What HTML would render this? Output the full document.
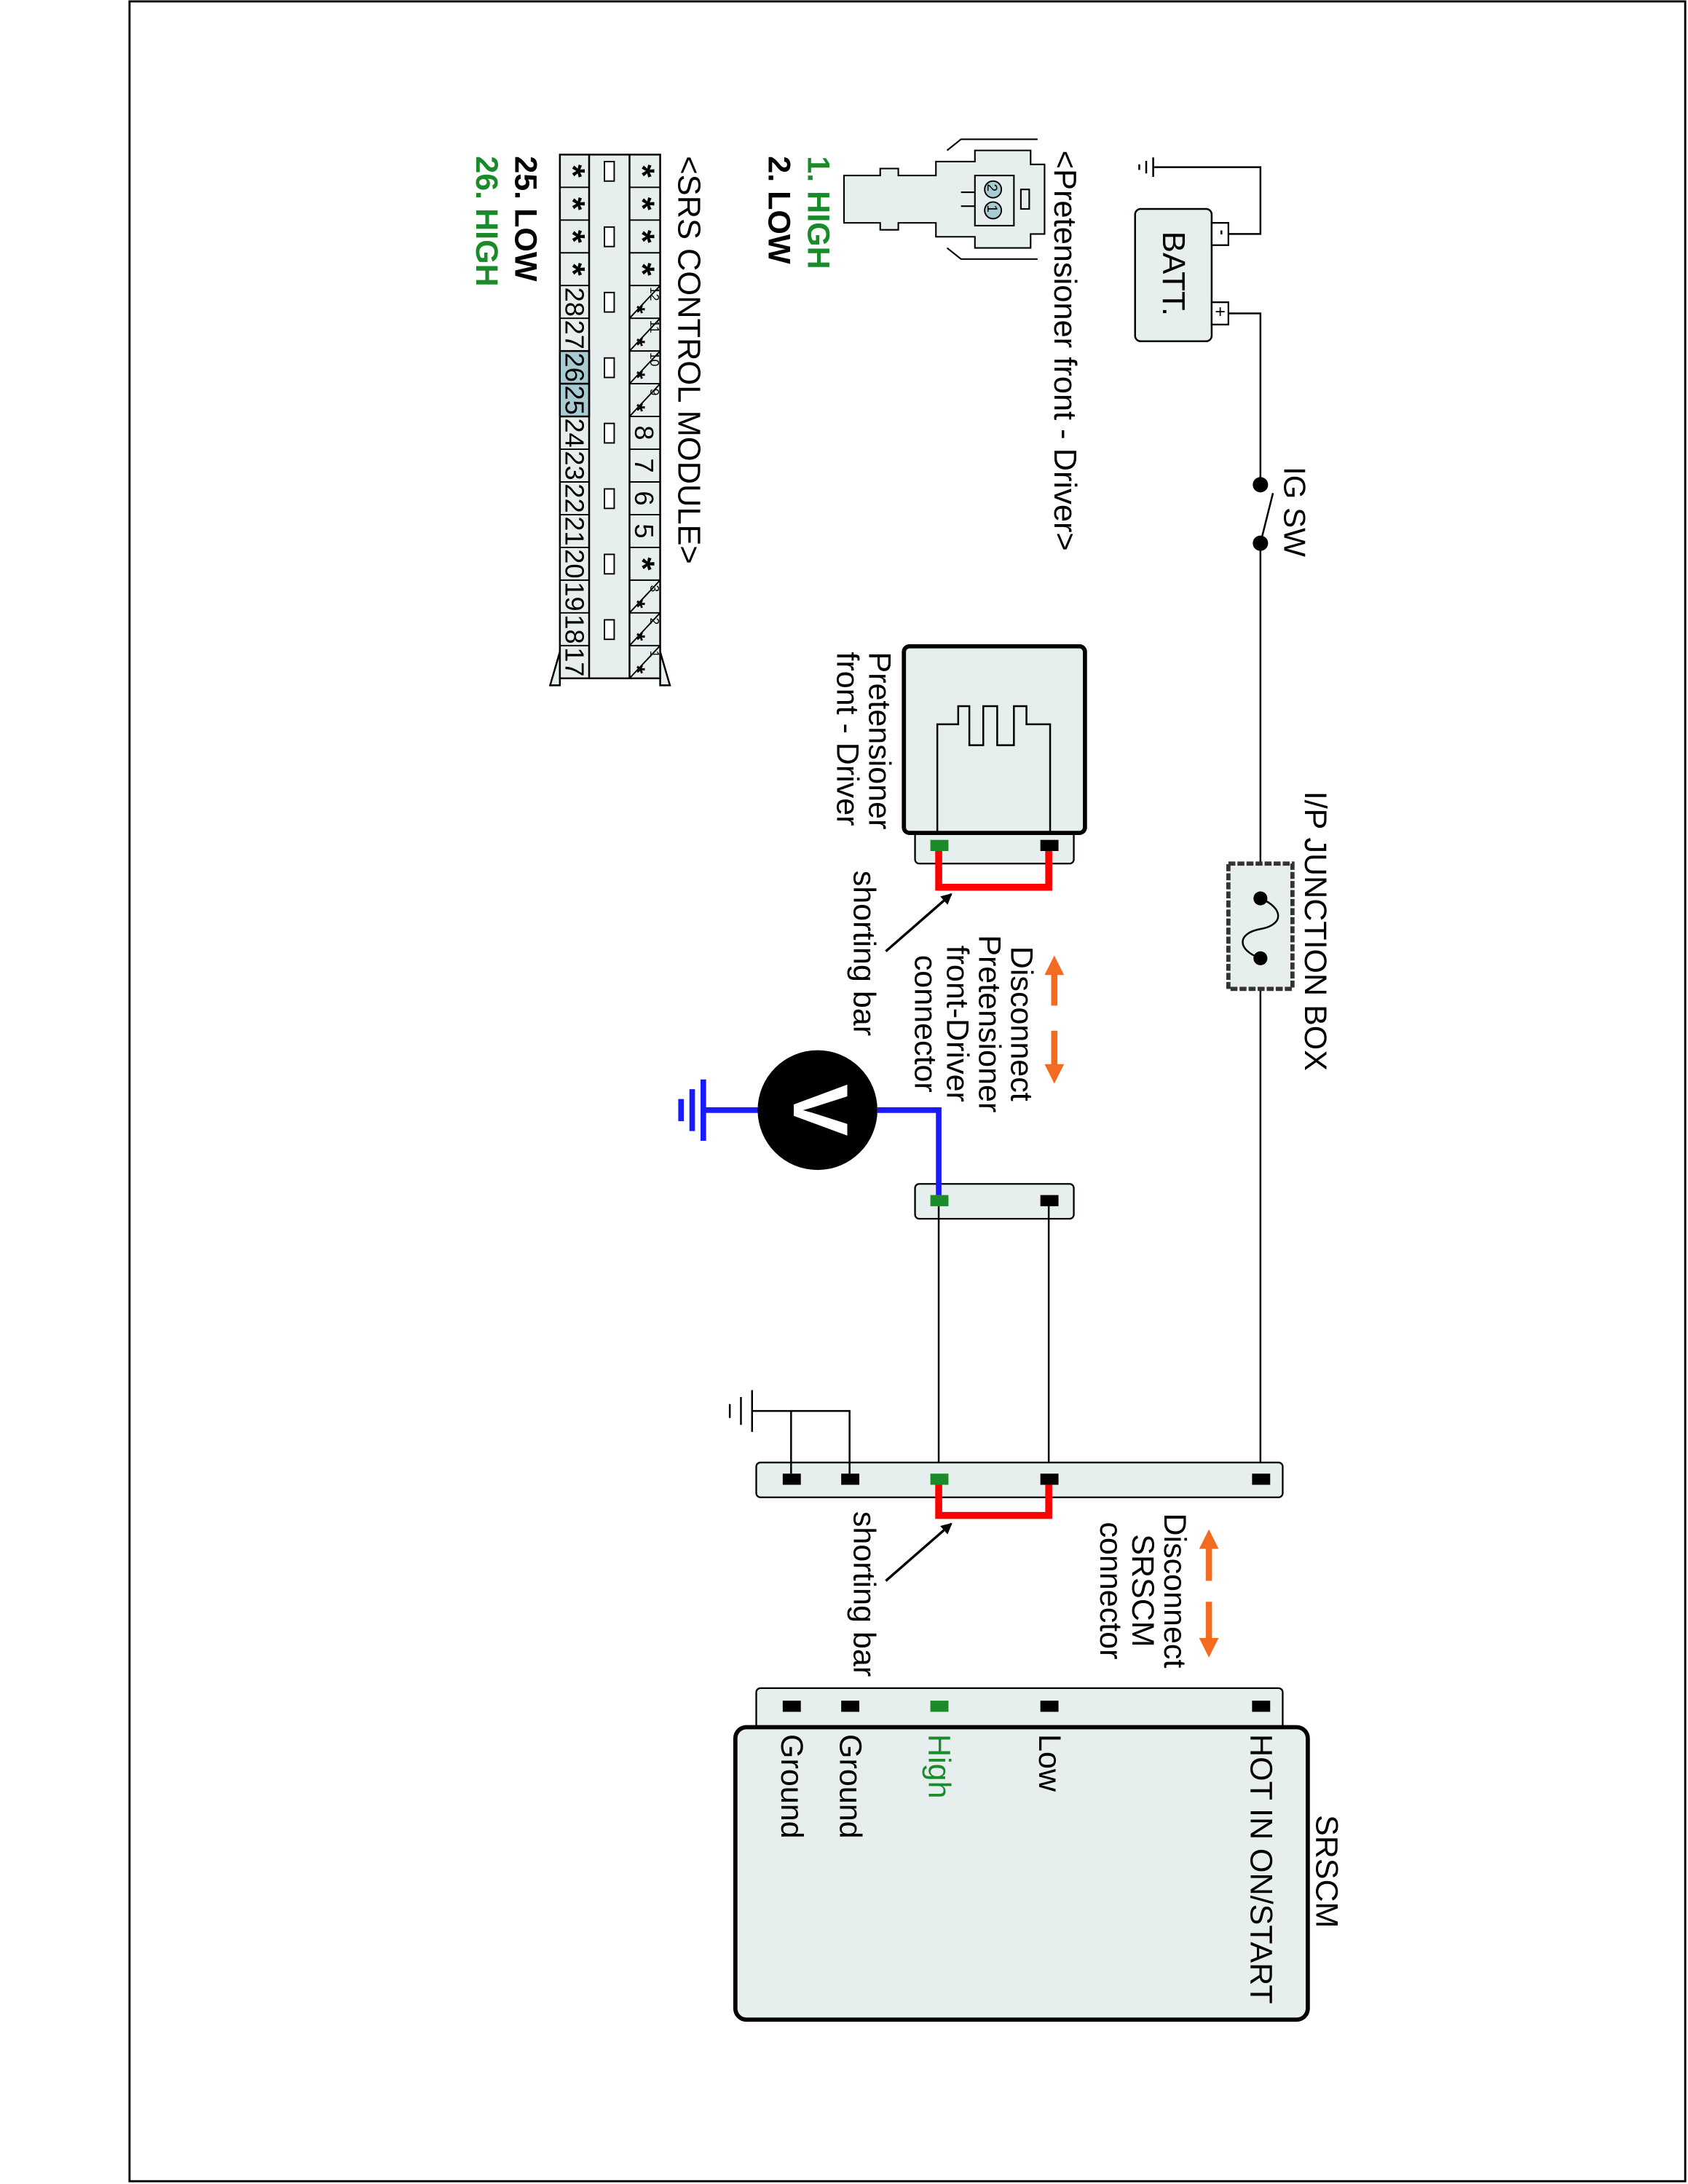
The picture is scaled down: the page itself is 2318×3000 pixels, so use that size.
<!DOCTYPE html>
<html><head><meta charset="utf-8"><style>
html,body{margin:0;padding:0;background:#fff}
svg{display:block}
text{font-family:"Liberation Sans",Arial,sans-serif;fill:#000}
</style></head><body>
<svg width="2318" height="3000" viewBox="0 0 1212 1568" preserveAspectRatio="none" xmlns="http://www.w3.org/2000/svg">
<defs>
<marker id="ah" markerWidth="8" markerHeight="8" refX="7" refY="4" orient="auto" markerUnits="userSpaceOnUse"><path d="M0,0 L8,4 L0,8 z" fill="#000"/></marker>
</defs>
<rect x="93" y="1" width="1117" height="1565" fill="none" stroke="#000" stroke-width="1.5"/>

<!-- battery -->
<g stroke="#000" fill="none" stroke-width="1.3">
<path d="M882,168 L905,168 L905,120 L828,120"/>
<path d="M828,113 L828,127 M823,115.5 L823,124.5 M818,118 L818,122"/>
<path d="M882,225 L905,225 L905,348"/>
<path d="M905,390 L905,620"/>
<path d="M905,390 L914,354"/>
<path d="M905,710 L905,1058"/>
</g>
<rect x="815" y="150" width="55" height="95" rx="4" fill="#e6eeee" stroke="#000" stroke-width="1.3"/>
<rect x="870" y="160" width="12" height="16" fill="#fff" stroke="#000" stroke-width="1.2"/>
<rect x="870" y="217" width="12" height="16" fill="#fff" stroke="#000" stroke-width="1.2"/>
<text transform="translate(874,165) rotate(90)" font-size="11" font-weight="bold">-</text>
<text transform="translate(872,220) rotate(90)" font-size="13">+</text>
<text transform="translate(835,166) rotate(90)" font-size="23">BATT.</text>
<circle cx="905" cy="348" r="5.5" fill="#000"/>
<circle cx="905" cy="390" r="5.5" fill="#000"/>
<text transform="translate(922,335) rotate(90)" font-size="22">IG SW</text>

<!-- junction box -->
<rect x="882" y="620" width="46" height="90" fill="#e6eeee" stroke="#333" stroke-width="3" stroke-dasharray="5,1.5"/>
<circle cx="905" cy="645" r="5" fill="#000"/>
<circle cx="905" cy="688" r="5" fill="#000"/>
<path d="M905,645 C922,652 922,664 905,667 C888,670 888,682 905,688" fill="none" stroke="#000" stroke-width="1.3"/>
<text transform="translate(937,568) rotate(90)" font-size="22.5">I/P JUNCTION BOX</text>

<!-- pretensioner box -->
<rect x="657" y="592" width="114" height="28" rx="3" fill="#e6eeee" stroke="#000" stroke-width="1.2"/>
<rect x="649" y="464" width="130" height="134" rx="4" fill="#e6eeee" stroke="#000" stroke-width="3"/>
<path d="M673,598 L673,520 L688,520 L688,507 L696,507 L696,535 L706,535 L706,507 L716,507 L716,535 L728,535 L728,507 L737,507 L737,520 L754,520 L754,598" fill="none" stroke="#000" stroke-width="1.3"/>
<rect x="668" y="603" width="13" height="8" fill="#1a8a2a"/>
<rect x="747" y="603" width="13" height="8" fill="#000"/>
<path d="M674,611 L674,637 L753,637 L753,611" fill="none" stroke="#f00" stroke-width="5"/>
<line x1="636" y1="683" x2="683" y2="642" stroke="#000" stroke-width="1.8" marker-end="url(#ah)"/>
<text transform="translate(624,468) rotate(90)" font-size="22.5">Pretensioner</text>
<text transform="translate(601,468) rotate(90)" font-size="22.5">front - Driver</text>
<text transform="translate(613,625) rotate(90)" font-size="22.5">shorting bar</text>
<g font-size="22.5" text-anchor="middle">
<text transform="translate(726,735) rotate(90)">Disconnect</text>
<text transform="translate(703,735) rotate(90)">Pretensioner</text>
<text transform="translate(680,735) rotate(90)">front-Driver</text>
<text transform="translate(657,735) rotate(90)">connector</text>
</g>
<g stroke="#f26b21" stroke-width="4.5" fill="#f26b21">
<line x1="757" y1="698" x2="757" y2="722"/>
<line x1="757" y1="740" x2="757" y2="766"/>
</g>
<path d="M757,686 L764,700 L750,700 z" fill="#f26b21"/>
<path d="M757,778 L764,764 L750,764 z" fill="#f26b21"/>

<!-- middle connector -->
<rect x="657" y="850" width="114" height="25" rx="3" fill="#e6eeee" stroke="#000" stroke-width="1.2"/>
<g stroke="#000" stroke-width="1.3">
<line x1="753" y1="866" x2="753" y2="1058"/>
<line x1="674" y1="866" x2="674" y2="1058"/>
</g>
<rect x="668" y="858" width="13" height="8" fill="#1a8a2a"/>
<rect x="747" y="858" width="13" height="8" fill="#000"/>
<path d="M674,858 L674,797 L630,797" fill="none" stroke="#1a1aff" stroke-width="4"/>
<path d="M545,797 L505,797 M505,775 L505,819 M497,782 L497,812 M489,789 L489,805" fill="none" stroke="#1a1aff" stroke-width="4"/>
<circle cx="587" cy="797" r="43" fill="#000"/>
<text transform="translate(570,797) rotate(90)" font-size="56" font-weight="bold" text-anchor="middle" style="fill:#fff">V</text>

<!-- SRSCM connectors -->
<rect x="543" y="1050" width="378" height="25" rx="3" fill="#e6eeee" stroke="#000" stroke-width="1.2"/>
<g stroke="#000" stroke-width="1.3" fill="none">
<path d="M610,1058 L610,1013 L540,1013 M568,1058 L568,1013"/>
<path d="M540,998 L540,1028 M532,1003 L532,1023 M524,1008 L524,1018"/>
</g>
<rect x="899" y="1058" width="13" height="8" fill="#000"/>
<rect x="747" y="1058" width="13" height="8" fill="#000"/>
<rect x="668" y="1058" width="13" height="8" fill="#1a8a2a"/>
<rect x="604" y="1058" width="13" height="8" fill="#000"/>
<rect x="562" y="1058" width="13" height="8" fill="#000"/>
<path d="M753,1066 L753,1088 L674,1088 L674,1066" fill="none" stroke="#f00" stroke-width="5"/>
<line x1="636" y1="1135" x2="683" y2="1094" stroke="#000" stroke-width="1.8" marker-end="url(#ah)"/>
<text transform="translate(613,1085) rotate(90)" font-size="22.5">shorting bar</text>
<g font-size="22.5" text-anchor="middle">
<text transform="translate(836,1142) rotate(90)">Disconnect</text>
<text transform="translate(813,1142) rotate(90)">SRSCM</text>
<text transform="translate(790,1142) rotate(90)">connector</text>
</g>
<g stroke="#f26b21" stroke-width="4.5">
<line x1="868" y1="1110" x2="868" y2="1135"/>
<line x1="868" y1="1150" x2="868" y2="1177"/>
</g>
<path d="M868,1098 L875,1112 L861,1112 z" fill="#f26b21"/>
<path d="M868,1190 L875,1176 L861,1176 z" fill="#f26b21"/>

<rect x="543" y="1212" width="378" height="30" rx="3" fill="#e6eeee" stroke="#000" stroke-width="1.2"/>
<rect x="528" y="1240" width="411" height="210" rx="8" fill="#e6eeee" stroke="#000" stroke-width="3"/>
<rect x="899" y="1221" width="13" height="8" fill="#000"/>
<rect x="747" y="1221" width="13" height="8" fill="#000"/>
<rect x="668" y="1221" width="13" height="8" fill="#1a8a2a"/>
<rect x="604" y="1221" width="13" height="8" fill="#000"/>
<rect x="562" y="1221" width="13" height="8" fill="#000"/>
<g font-size="22.5">
<text transform="translate(945,1303) rotate(90)">SRSCM</text>
<text transform="translate(898,1245) rotate(90)">HOT IN ON/START</text>
<text transform="translate(746,1245) rotate(90)">Low</text>
<text transform="translate(667,1245) rotate(90)" style="fill:#1a8a2a">High</text>
<text transform="translate(603,1245) rotate(90)">Ground</text>
<text transform="translate(561,1245) rotate(90)">Ground</text>
</g>

<!-- top-left labels -->
<g font-size="22.7">
<text transform="translate(757,108) rotate(90)">&lt;Pretensioner front - Driver&gt;</text>
<text transform="translate(487,112) rotate(90)">&lt;SRS CONTROL MODULE&gt;</text>
</g>
<g font-size="22.5" font-weight="bold">
<text transform="translate(580,112) rotate(90)" style="fill:#1a8a2a">1. HIGH</text>
<text transform="translate(552,112) rotate(90)">2. LOW</text>
<text transform="translate(370,112) rotate(90)">25. LOW</text>
<text transform="translate(342,112) rotate(90)" style="fill:#1a8a2a">26. HIGH</text>
</g>

<!-- pretensioner connector drawing -->
<g stroke="#000" stroke-width="1.1" fill="#e6eeee">
<path d="M740,108 L740,118 L750,118 L750,168 L740,168 L740,178 L700,178 L700,170 L672,170 L672,160 L645,160 L645,165 L632,165 L632,160 L606,160 L606,126 L632,126 L632,121 L645,121 L645,126 L672,126 L672,116 L700,116 L700,108 Z"/>
<rect x="700" y="126" width="28" height="36"/>
<rect x="733" y="136" width="6" height="14"/>
<path d="M690,138 L700,138 M690,148 L700,148" fill="none"/>
<path d="M680,108 L690,100 L745,100 M680,178 L690,186 L745,186" fill="none"/>
</g>
<circle cx="713" cy="136" r="6" fill="#a8cbd3" stroke="#000" stroke-width="1"/>
<circle cx="713" cy="151" r="6" fill="#a8cbd3" stroke="#000" stroke-width="1"/>
<text transform="translate(709,132) rotate(90)" font-size="10">2</text>
<text transform="translate(709,147) rotate(90)" font-size="10">1</text>

<!-- SRS control module grid -->
<g stroke="#000" stroke-width="1.3" fill="#e6eeee">
<path d="M402,468 L395,492 L402,492 Z M474,468 L481,492 L474,492 Z"/>
<rect x="402" y="111" width="72" height="376"/>
<rect x="402" y="252" width="21" height="23.5" fill="#a8cbd3"/>
<rect x="402" y="275.5" width="21" height="23.5" fill="#a8cbd3"/>
<line x1="423" y1="111" x2="423" y2="487"/>
<line x1="452" y1="111" x2="452" y2="487"/>
</g>
<g stroke="#000" stroke-width="1">
<line x1="402" y1="134.5" x2="423" y2="134.5"/><line x1="452" y1="134.5" x2="474" y2="134.5"/>
<line x1="402" y1="158" x2="423" y2="158"/><line x1="452" y1="158" x2="474" y2="158"/>
<line x1="402" y1="181.5" x2="423" y2="181.5"/><line x1="452" y1="181.5" x2="474" y2="181.5"/>
<line x1="402" y1="205" x2="423" y2="205"/><line x1="452" y1="205" x2="474" y2="205"/>
<line x1="402" y1="228.5" x2="423" y2="228.5"/><line x1="452" y1="228.5" x2="474" y2="228.5"/>
<line x1="402" y1="252" x2="423" y2="252"/><line x1="452" y1="252" x2="474" y2="252"/>
<line x1="402" y1="275.5" x2="423" y2="275.5"/><line x1="452" y1="275.5" x2="474" y2="275.5"/>
<line x1="402" y1="299" x2="423" y2="299"/><line x1="452" y1="299" x2="474" y2="299"/>
<line x1="402" y1="322.5" x2="423" y2="322.5"/><line x1="452" y1="322.5" x2="474" y2="322.5"/>
<line x1="402" y1="346" x2="423" y2="346"/><line x1="452" y1="346" x2="474" y2="346"/>
<line x1="402" y1="369.5" x2="423" y2="369.5"/><line x1="452" y1="369.5" x2="474" y2="369.5"/>
<line x1="402" y1="393" x2="423" y2="393"/><line x1="452" y1="393" x2="474" y2="393"/>
<line x1="402" y1="416.5" x2="423" y2="416.5"/><line x1="452" y1="416.5" x2="474" y2="416.5"/>
<line x1="402" y1="440" x2="423" y2="440"/><line x1="452" y1="440" x2="474" y2="440"/>
<line x1="402" y1="463.5" x2="423" y2="463.5"/><line x1="452" y1="463.5" x2="474" y2="463.5"/>
<line x1="452" y1="228.5" x2="474" y2="205"/>
<line x1="452" y1="252" x2="474" y2="228.5"/>
<line x1="452" y1="275.5" x2="474" y2="252"/>
<line x1="452" y1="299" x2="474" y2="275.5"/>
<line x1="452" y1="440" x2="474" y2="416.5"/>
<line x1="452" y1="463.5" x2="474" y2="440"/>
<line x1="452" y1="487" x2="474" y2="463.5"/>
</g>
<g fill="#fff" stroke="#000" stroke-width="1">
<rect x="434" y="116" width="7" height="14"/>
<rect x="434" y="163" width="7" height="14"/>
<rect x="434" y="210" width="7" height="14"/>
<rect x="434" y="257" width="7" height="14"/>
<rect x="434" y="304" width="7" height="14"/>
<rect x="434" y="351" width="7" height="14"/>
<rect x="434" y="398" width="7" height="14"/>
<rect x="434" y="445" width="7" height="14"/>
</g>
<g font-size="19" text-anchor="middle">
<text transform="translate(406,216.75) rotate(90)">28</text>
<text transform="translate(406,240.25) rotate(90)">27</text>
<text transform="translate(406,263.75) rotate(90)">26</text>
<text transform="translate(406,287.25) rotate(90)">25</text>
<text transform="translate(406,310.75) rotate(90)">24</text>
<text transform="translate(406,334.25) rotate(90)">23</text>
<text transform="translate(406,357.75) rotate(90)">22</text>
<text transform="translate(406,381.25) rotate(90)">21</text>
<text transform="translate(406,404.75) rotate(90)">20</text>
<text transform="translate(406,428.25) rotate(90)">19</text>
<text transform="translate(406,451.75) rotate(90)">18</text>
<text transform="translate(406,475.25) rotate(90)">17</text>
<text transform="translate(456,310.75) rotate(90)">8</text>
<text transform="translate(456,334.25) rotate(90)">7</text>
<text transform="translate(456,357.75) rotate(90)">6</text>
<text transform="translate(456,381.25) rotate(90)">5</text>
</g>
<g font-size="24" font-weight="bold" text-anchor="middle">
<text transform="translate(403,122.75) rotate(90)">*</text>
<text transform="translate(403,146.25) rotate(90)">*</text>
<text transform="translate(403,169.75) rotate(90)">*</text>
<text transform="translate(403,193.25) rotate(90)">*</text>
<text transform="translate(453,122.75) rotate(90)">*</text>
<text transform="translate(453,146.25) rotate(90)">*</text>
<text transform="translate(453,169.75) rotate(90)">*</text>
<text transform="translate(453,193.25) rotate(90)">*</text>
<text transform="translate(453,404.75) rotate(90)">*</text>
</g>
<g font-size="9" text-anchor="middle">
<text transform="translate(467,211) rotate(90)">12</text>
<text transform="translate(467,234.5) rotate(90)">11</text>
<text transform="translate(467,258) rotate(90)">10</text>
<text transform="translate(467,281.5) rotate(90)">9</text>
<text transform="translate(467,422.5) rotate(90)">3</text>
<text transform="translate(467,446) rotate(90)">2</text>
<text transform="translate(467,469.5) rotate(90)">1</text>
</g>
<g font-size="16" font-weight="bold" text-anchor="middle">
<text transform="translate(452,222) rotate(90)">*</text>
<text transform="translate(452,245.5) rotate(90)">*</text>
<text transform="translate(452,269) rotate(90)">*</text>
<text transform="translate(452,292.5) rotate(90)">*</text>
<text transform="translate(452,433.5) rotate(90)">*</text>
<text transform="translate(452,457) rotate(90)">*</text>
<text transform="translate(452,480.5) rotate(90)">*</text>
</g>
</svg>
</body></html>
